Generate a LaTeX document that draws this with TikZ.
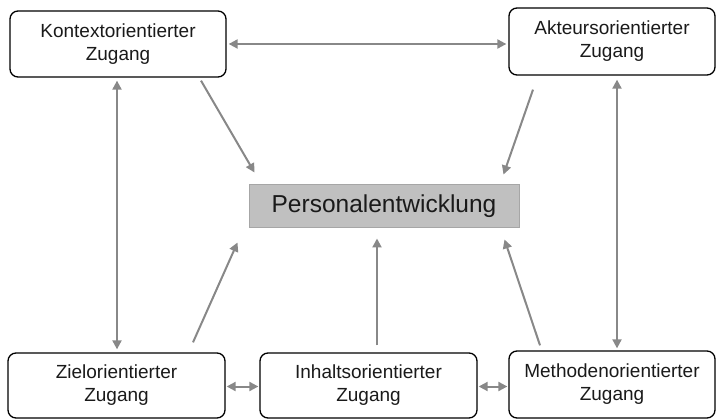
\documentclass[tikz,border=0pt]{standalone}
\usepackage{fontspec}
\setmainfont{Liberation Sans}
\usetikzlibrary{arrows.meta}
\definecolor{arrowgray}{HTML}{888888}
\definecolor{boxfill}{HTML}{C0C0C0}
\definecolor{boxline}{HTML}{A6A6A6}
\definecolor{ink}{HTML}{1A1A1A}
\begin{document}
\begin{tikzpicture}[x=1pt,y=-1pt,
  approach/.style={draw=black,line width=1.3pt,rounded corners=8pt,fill=white,
    align=center,text=ink,inner sep=0pt,
    font=\fontsize{19}{23}\selectfont},
  centre/.style={draw=boxline,line width=1pt,fill=boxfill,text=ink,inner sep=0pt,
    font=\fontsize{24.5}{28}\selectfont},
  link/.style={draw=arrowgray,line width=2pt,-{Triangle[length=9pt,width=9pt]}},
  twoway/.style={draw=arrowgray,line width=2pt,{Triangle[length=9pt,width=9pt]}-{Triangle[length=9pt,width=9pt]}}
]
\useasboundingbox (0,0) rectangle (717,419);

% the five approaches and the central node
\node[approach,minimum width=216pt,minimum height=66pt] (K) at (118,44)
  {Kontextorientierter\\Zugang};
\node[approach,minimum width=206pt,minimum height=67pt] (A) at (612,41.5)
  {Akteursorientierter\\Zugang};
\node[approach,minimum width=217pt,minimum height=65pt] (Z) at (116.5,385.5)
  {Zielorientierter\\Zugang};
\node[approach,minimum width=217pt,minimum height=65pt] (I) at (368.5,385.5)
  {Inhaltsorientierter\\Zugang};
\node[approach,minimum width=206pt,minimum height=67pt] (M) at (612,384.5)
  {Methodenorientierter\\Zugang};
\node[centre,minimum width=270pt,minimum height=43pt] (P) at (384,206.5)
  {Personalentwicklung};

% mutual links along the frame
\draw[twoway,shorten <=2pt,shorten >=2pt] (K.east) -- (K.east -| A.west);
\draw[twoway,shorten <=3pt,shorten >=3pt] ([xshift=-1pt]K.south) -- ([xshift=-1pt]K.south |- Z.north);
\draw[twoway,shorten <=4pt,shorten >=2pt] ([shift={(5,0)}]A.south) -- ([shift={(5,0)}]A.south |- M.north);
\draw[twoway,shorten <=1pt,shorten >=1pt] ([shift={(0,1)}]Z.east) -- ([shift={(0,1)}]I.west);
\draw[twoway,shorten <=1pt,shorten >=1pt] ([shift={(0,1)}]I.east) -- ([shift={(0,1)}]I.east -| M.west);

% every approach feeds into the centre
\draw[link] ([shift={(83,3)}]K.south) -- ([shift={(6,-12)}]P.north west);
\draw[link] ([shift={(-79,14)}]A.south) -- ([shift={(-16,-10)}]P.north east);
\draw[link] ([shift={(76.5,-10)}]Z.north) -- ([shift={(-11,14)}]P.south west);
\draw[link] ([shift={(8.5,-7)}]I.north) -- ([shift={(-7,10)}]P.south);
\draw[link] ([shift={(-72,-5)}]M.north) -- ([shift={(-15,11)}]P.south east);
\end{tikzpicture}
\end{document}
